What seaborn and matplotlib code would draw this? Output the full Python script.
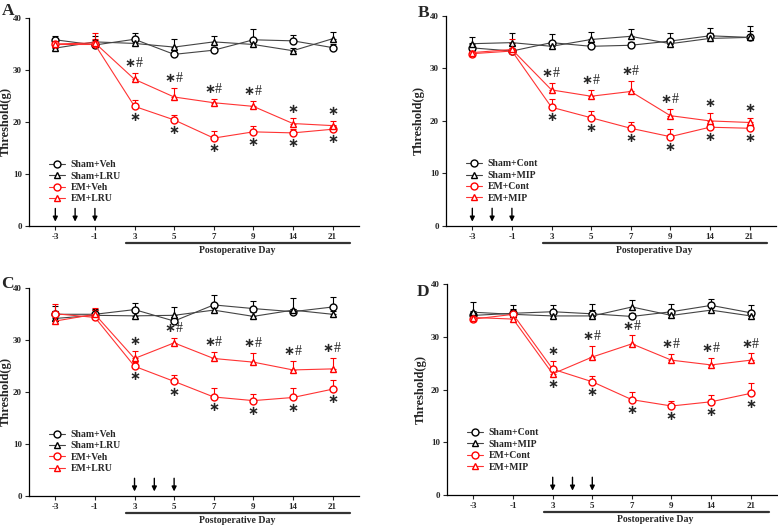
import numpy as np
import pandas as pd
import seaborn as sns
import matplotlib.pyplot as plt
from matplotlib.lines import Line2D

days = ['-3', '-1', '3', '5', '7', '9', '14', '21']

# Panel A
a_groups = ['Sham+Veh', 'Sham+LRU', 'EM+Veh', 'EM+LRU']
a_means = [[35.8, 34.8, 35.9, 33.0, 33.8, 35.8, 35.6, 34.3],
           [34.2, 35.4, 35.1, 34.4, 35.4, 34.9, 33.7, 36.0],
           [34.9, 34.9, 23.0, 20.4, 16.9, 18.1, 17.9, 18.6],
           [35.0, 35.2, 28.2, 24.8, 23.7, 23.0, 19.7, 19.3]]
a_errs = [[0.8, 1.0, 1.3, 0.8, 0.7, 2.0, 1.2, 0.6],
          [0.6, 1.2, 1.0, 1.5, 1.1, 0.8, 0.6, 1.3],
          [0.6, 1.0, 1.3, 1.0, 1.3, 1.2, 0.7, 0.8],
          [0.5, 2.0, 1.2, 1.7, 0.8, 1.0, 1.0, 0.9]]
a_above = ['*#', '*#', '*#', '*#', '*', '*']
a_arrows = [0, 0.5, 1]

# Panel B
b_groups = ['Sham+Cont', 'Sham+MIP', 'EM+Cont', 'EM+MIP']
b_means = [[33.9, 33.3, 34.9, 34.2, 34.4, 35.2, 36.2, 35.9],
           [34.7, 34.9, 34.2, 35.5, 36.1, 34.7, 35.7, 35.9],
           [32.8, 33.3, 22.6, 20.6, 18.6, 17.0, 18.8, 18.6],
           [33.0, 33.6, 25.9, 24.7, 25.6, 21.0, 20.0, 19.7]]
b_errs = [[1.0, 1.2, 1.6, 0.8, 0.6, 1.6, 1.4, 2.1],
          [1.3, 1.8, 0.8, 1.4, 1.3, 0.9, 1.0, 1.3],
          [0.5, 1.5, 1.5, 1.3, 1.1, 1.4, 0.7, 0.6],
          [0.5, 2.0, 1.4, 1.2, 2.0, 1.3, 1.6, 0.9]]
b_above = ['*#', '*#', '*#', '*#', '*', '*']
b_arrows = [0, 0.5, 1]

# Panel C
c_groups = ['Sham+Veh', 'Sham+LRU', 'EM+Veh', 'EM+LRU']
c_means = [[34.9, 34.9, 35.8, 33.6, 36.7, 36.0, 35.4, 36.3],
           [34.1, 34.7, 34.6, 34.7, 35.7, 34.5, 35.7, 34.9],
           [35.0, 34.3, 24.9, 22.0, 19.0, 18.3, 18.9, 20.5],
           [33.6, 34.9, 26.4, 29.4, 26.4, 25.7, 24.2, 24.4]]
c_errs = [[1.5, 1.0, 1.2, 0.8, 2.0, 1.5, 0.6, 2.0],
          [1.4, 1.0, 0.7, 1.6, 0.8, 0.8, 2.3, 0.6],
          [1.9, 1.5, 0.8, 1.3, 1.8, 1.3, 1.9, 1.7],
          [2.0, 1.3, 1.5, 1.0, 1.3, 1.8, 1.8, 2.1]]
c_above = ['*', '*#', '*#', '*#', '*#', '*#']
c_arrows = [2, 2.5, 3]

# Panel D
d_groups = ['Sham+Cont', 'Sham+MIP', 'EM+Cont', 'EM+MIP']
d_means = [[34.1, 34.5, 34.8, 34.4, 33.9, 34.8, 36.0, 34.6],
           [34.7, 34.3, 34.0, 34.0, 35.7, 34.1, 35.1, 34.0],
           [33.4, 34.3, 23.9, 21.5, 18.1, 16.9, 17.7, 19.3],
           [33.7, 33.4, 23.0, 26.2, 28.7, 25.6, 24.7, 25.6]]
d_errs = [[0.8, 0.8, 1.3, 0.8, 0.6, 1.5, 1.3, 1.4],
          [1.9, 1.7, 0.6, 2.2, 1.3, 0.7, 0.7, 0.6],
          [0.5, 0.8, 1.6, 1.0, 1.5, 1.0, 1.3, 1.9],
          [0.6, 0.7, 0.8, 2.1, 1.6, 1.2, 1.3, 1.3]]
d_above = ['*', '*#', '*#', '*#', '*#', '*#']
d_arrows = [2, 2.5, 3]

colors = ['black', 'black', 'red', 'red']
line_colors = ['#444444', '#444444', '#ff3333', '#ff3333']
markers = ['o', '^', 'o', '^']

sns.set_style('ticks')
plt.rcParams['font.family'] = ['Liberation Serif', 'DejaVu Serif']
plt.rcParams['font.weight'] = 'bold'


def star(ax, p, y, dy, va, with_hash):
    # bold centred asterisk, optional serif hash to its right
    dx = -3 if with_hash else 0
    ax.annotate('\u2217', xy=(p, y), xytext=(dx, dy), textcoords='offset points',
                ha='center', va=va, fontsize=9.5, fontweight='bold',
                family='DejaVu Sans')
    if with_hash:
        ax.annotate('#', xy=(p, y), xytext=(3.5, dy), textcoords='offset points',
                    ha='center', va=va, fontsize=10, fontweight='normal')


def draw_panel(ax, letter, groups, means, errs, above, arrows, ylab_x):
    x = np.arange(len(days))
    df = pd.DataFrame({
        'pos': np.tile(x, len(groups)),
        'val': np.concatenate(means),
        'grp': np.repeat(groups, len(days)),
    })
    sns.lineplot(data=df, x='pos', y='val', hue='grp', style='grp',
                 hue_order=groups, style_order=groups,
                 palette=dict(zip(groups, line_colors)),
                 markers=dict(zip(groups, markers)), dashes=False,
                 errorbar=None, legend=False, ax=ax,
                 lw=0.8, ms=5, mfc='white', mew=1, zorder=3)
    for line, c in zip(ax.lines, colors):
        line.set_markeredgecolor(c)
    for m, e, c in zip(means, errs, colors):
        ax.errorbar(x, m, yerr=[np.zeros(len(e)), e], fmt='none', ecolor=c,
                    elinewidth=0.8, capsize=2.5, capthick=0.8, zorder=2)

    # significance marks (post-op days only)
    red_m = np.array(means[2:])
    red_top = red_m + np.array(errs[2:])
    for i, lab in enumerate(above):
        p = i + 2
        star(ax, p, red_top[:, p].max(), 2, 'bottom', '#' in lab)
        star(ax, p, red_m[:, p].min(), -3, 'top', False)

    for p in arrows:
        ax.annotate('', xy=(p, 0.3), xytext=(p, 3.9),
                    arrowprops=dict(arrowstyle='-|>', color='black',
                                    lw=1, mutation_scale=7))

    ax.set_xlim(-0.67, 7.66)
    ax.set_ylim(0, 40)
    ax.set_xticks(x)
    ax.set_xticklabels(days)
    ax.set_yticks([0, 10, 20, 30, 40])
    ax.set_xlabel('')
    ax.set_ylabel('Threshold(g)', fontsize=9, fontweight='bold')
    ax.yaxis.set_label_coords(ylab_x, 0.5)
    ax.tick_params(labelsize=6.5, length=3, width=0.8, pad=2)
    for s in ['left', 'bottom']:
        ax.spines[s].set_linewidth(0.9)
        ax.spines[s].set_color('black')
    sns.despine(ax=ax)

    tr = ax.get_xaxis_transform()
    ax.plot([1.78, 7.45], [-0.083, -0.083], transform=tr, color='#333333',
            lw=1.6, clip_on=False)
    ax.text(4.6, -0.118, 'Postoperative Day', transform=tr, ha='center',
            va='center', fontsize=7, fontweight='bold')

    handles = [Line2D([], [], color=lc, marker=mk, mfc='white', mec=c,
                      mew=1, ms=5, lw=0.8)
               for lc, mk, c in zip(line_colors, markers, colors)]
    ax.legend(handles, groups, loc='upper left',
              bbox_to_anchor=(0.05, 0.335), frameon=False,
              fontsize=7, handlelength=1.6, labelspacing=0.25,
              handletextpad=0.6, borderaxespad=0)
    ax.figure.text(*letter[1], letter[0], fontsize=12.5, fontweight='bold',
                   ha='left', va='top')


fig = plt.figure(figsize=(7.78, 5.28), dpi=100)
ax_a = fig.add_axes([0.037, 0.572, 0.424, 0.394])
ax_b = fig.add_axes([0.573, 0.572, 0.424, 0.398])
ax_c = fig.add_axes([0.037, 0.061, 0.424, 0.394])
ax_d = fig.add_axes([0.5745, 0.0625, 0.424, 0.399])

draw_panel(ax_a, ('A', (0.002, 0.995)), a_groups, a_means, a_errs, a_above,
           a_arrows, -0.052)
draw_panel(ax_b, ('B', (0.537, 0.99)), b_groups, b_means, b_errs, b_above,
           b_arrows, -0.064)
draw_panel(ax_c, ('C', (0.001, 0.477)), c_groups, c_means, c_errs, c_above,
           c_arrows, -0.052)
draw_panel(ax_d, ('D', (0.535, 0.462)), d_groups, d_means, d_errs, d_above,
           d_arrows, -0.062)

fig.savefig('out.png', dpi=100)
